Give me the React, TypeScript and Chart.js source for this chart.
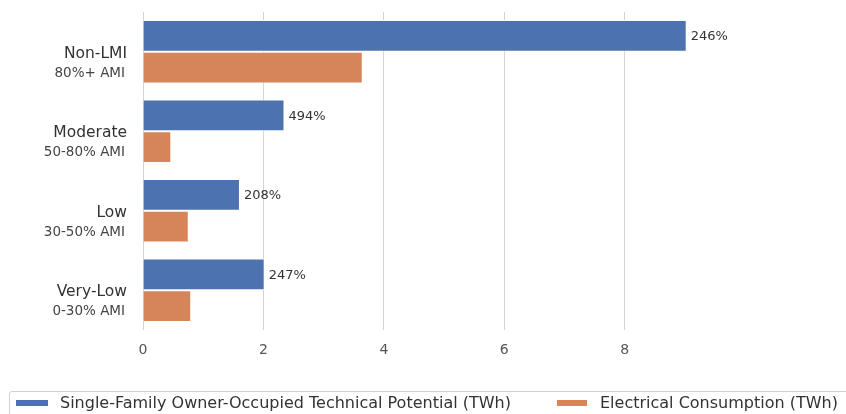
import React, { useEffect, useRef } from "react";
import { Chart, registerables } from "chart.js";

Chart.register(...registerables);

const categories = ["Non-LMI", "Moderate", "Low", "Very-Low"];
const subLabels = ["80%+ AMI", "50-80% AMI", "30-50% AMI", "0-30% AMI"];
const technicalPotential = [9.03, 2.35, 1.61, 2.02];
const consumption = [3.65, 0.47, 0.76, 0.8];
const ratioLabels = ["246%", "494%", "208%", "247%"];
const seriesNames = [
  "Single-Family Owner-Occupied Technical Potential (TWh)",
  "Electrical Consumption (TWh)",
];
const xTicks = [0, 2, 4, 6, 8];

const BLUE = "#4c72b0";
const ORANGE = "#d6845a";
const FONT = "'DejaVu Sans', sans-serif";

export default function App() {
  const ref = useRef<HTMLCanvasElement>(null);

  useEffect(() => {
    document.body.style.margin = "0";
    const canvas = ref.current!;
    const labelPlugin = {
      id: "customLabels",
      afterDatasetsDraw(chart: any) {
        const ctx = chart.ctx;
        const y = chart.scales.y;
        ctx.save();
        categories.forEach((c, i) => {
          const py = y.getPixelForValue(i);
          ctx.textAlign = "right";
          ctx.textBaseline = "alphabetic";
          ctx.fillStyle = "#333333";
          ctx.font = `15.5px ${FONT}`;
          ctx.fillText(c, 127, py + 6);
          ctx.fillStyle = "#444444";
          ctx.font = `13.5px ${FONT}`;
          ctx.fillText(subLabels[i], 125, py + 25);
        });
        const meta = chart.getDatasetMeta(0);
        ctx.textAlign = "left";
        ctx.textBaseline = "middle";
        ctx.fillStyle = "#333333";
        ctx.font = `13px ${FONT}`;
        meta.data.forEach((bar: any, i: number) => {
          ctx.fillText(ratioLabels[i], bar.x + 4, bar.y + 1);
        });
        ctx.restore();
      },
    };

    const chart = new Chart(canvas, {
      type: "bar",
      data: {
        labels: categories,
        datasets: [
          {
            label: seriesNames[0],
            data: technicalPotential,
            backgroundColor: BLUE,
            borderColor: "#ffffff",
            borderWidth: 1,
            categoryPercentage: 0.8,
            barPercentage: 1,
          },
          {
            label: seriesNames[1],
            data: consumption,
            backgroundColor: ORANGE,
            borderColor: "#ffffff",
            borderWidth: 1,
            categoryPercentage: 0.8,
            barPercentage: 1,
          },
        ],
      },
      options: {
        indexAxis: "y",
        responsive: false,
        animation: false,
        layout: { padding: { top: 12, bottom: 54, left: 0, right: 131 } },
        plugins: {
          legend: { display: false },
          tooltip: { enabled: false },
        },
        scales: {
          x: {
            min: 0,
            max: 9.5,
            afterFit(scale: any) {
              scale.height = 30;
            },
            afterBuildTicks(scale: any) {
              scale.ticks = xTicks.map((v) => ({ value: v }));
            },
            grid: { color: "#d4d4d4", lineWidth: 1, drawTicks: false },
            border: { display: false },
            ticks: {
              padding: 12,
              color: "#555555",
              font: { family: FONT, size: 14 },
            },
          },
          y: {
            afterFit(scale: any) {
              scale.width = 143;
            },
            grid: { display: false },
            border: { display: false },
            ticks: { display: false },
          },
        },
      },
      plugins: [labelPlugin],
    });
    return () => chart.destroy();
  }, []);

  const legendText: React.CSSProperties = {
    position: "absolute",
    top: 393,
    fontFamily: FONT,
    fontSize: 16,
    color: "#333333",
    lineHeight: "20px",
    whiteSpace: "nowrap",
  };

  return (
    <div style={{ position: "relative", width: 846, height: 414, overflow: "hidden", background: "#fff" }}>
      <canvas ref={ref} width={846} height={414} style={{ display: "block" }} />
      <div
        style={{
          position: "absolute",
          left: 9,
          top: 391,
          width: 860,
          height: 40,
          border: "1px solid #d0d0d0",
          borderRadius: 3,
          boxSizing: "border-box",
        }}
      />
      <div style={{ position: "absolute", left: 16, top: 400, width: 32, height: 6, background: BLUE }} />
      <div style={{ ...legendText, left: 60 }}>{seriesNames[0]}</div>
      <div style={{ position: "absolute", left: 557, top: 400, width: 30, height: 6, background: ORANGE }} />
      <div style={{ ...legendText, left: 600 }}>{seriesNames[1]}</div>
    </div>
  );
}
